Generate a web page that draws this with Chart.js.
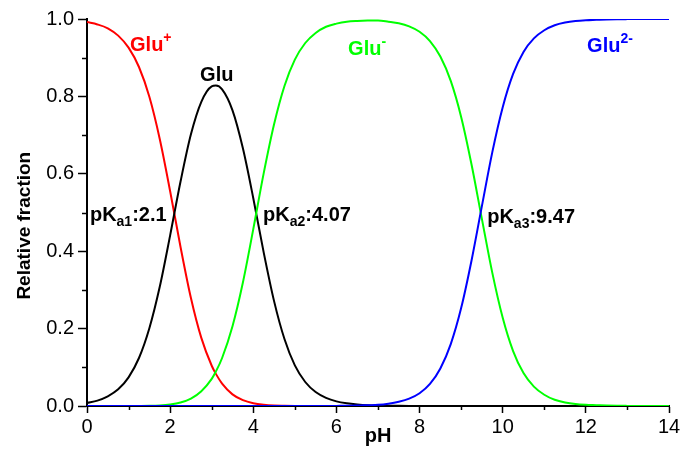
<!DOCTYPE html>
<html>
<head>
<meta charset="utf-8">
<script src="https://cdn.jsdelivr.net/npm/chart.js@4/dist/chart.umd.min.js"></script>
<style>
  body { margin: 0; background: #fff; }
</style>
</head>
<body>
<canvas id="chart" width="683" height="450"></canvas>
<script>
// pH grid and species fractions
const pH = [0, 0.25, 0.5, 0.75, 1, 1.25, 1.5, 1.75, 2, 2.25, 2.5, 2.75, 3, 3.1, 3.25, 3.5, 3.75,
  4, 4.25, 4.5, 4.75, 5, 5.25, 5.5, 5.75, 6, 6.25, 6.5, 6.75, 7, 7.25, 7.5, 7.75,
  8, 8.25, 8.5, 8.75, 9, 9.25, 9.5, 9.75, 10, 10.25, 10.5, 10.75, 11, 11.25, 11.5, 11.75,
  12, 12.25, 12.5, 12.75, 13, 13.25, 13.5, 13.75, 14];

const gluPlus = [0.992, 0.986, 0.976, 0.957, 0.926, 0.876, 0.799, 0.690, 0.555, 0.411, 0.279, 0.176, 0.104, 0.083, 0.058, 0.030, 0.015,
  0.007, 0.003, 0.001, 0.0004, 0.0001, 0, 0, 0, 0, 0, 0, 0, 0, 0, 0, 0,
  0, 0, 0, 0, 0, 0, 0, 0, 0, 0, 0, 0, 0, 0, 0, 0,
  0, 0, 0, 0, 0, 0, 0, 0, 0];

const glu = [0.008, 0.014, 0.025, 0.043, 0.074, 0.124, 0.201, 0.308, 0.441, 0.580, 0.702, 0.786, 0.826, 0.828, 0.818, 0.764, 0.666,
  0.537, 0.397, 0.271, 0.173, 0.105, 0.062, 0.036, 0.021, 0.012, 0.007, 0.004, 0.002, 0.001, 0.0007, 0.0004, 0.0002,
  0.0001, 0, 0, 0, 0, 0, 0, 0, 0, 0, 0, 0, 0, 0, 0, 0,
  0, 0, 0, 0, 0, 0, 0, 0, 0];

const gluMinus = [0, 0, 0, 0, 0.0001, 0.0002, 0.0005, 0.0015, 0.004, 0.009, 0.019, 0.038, 0.070, 0.089, 0.124, 0.206, 0.319,
  0.457, 0.601, 0.728, 0.827, 0.895, 0.938, 0.964, 0.980, 0.988, 0.993, 0.995, 0.996, 0.996, 0.993, 0.989, 0.981,
  0.967, 0.943, 0.903, 0.840, 0.747, 0.624, 0.483, 0.344, 0.228, 0.142, 0.085, 0.050, 0.029, 0.016, 0.009, 0.005,
  0.003, 0.002, 0.001, 0.0005, 0.0003, 0.0002, 0.0001, 0.0001, 0];

const gluTwoMinus = [0, 0, 0, 0, 0, 0, 0, 0, 0, 0, 0, 0, 0, 0, 0, 0, 0,
  0, 0, 0, 0, 0, 0, 0, 0, 0.0003, 0.0006, 0.001, 0.002, 0.003, 0.006, 0.011, 0.019,
  0.033, 0.057, 0.097, 0.160, 0.253, 0.376, 0.517, 0.656, 0.772, 0.858, 0.915, 0.950, 0.971, 0.984, 0.991, 0.995,
  0.997, 0.998, 0.999, 0.9995, 0.9997, 0.9998, 0.9999, 0.9999, 1.0];

const xMinor = [1, 3, 5, 7, 9, 11, 13];
const yMinor = [0.1, 0.3, 0.5, 0.7, 0.9];

const FONT = '"Liberation Sans", Arial, sans-serif';

// text labels placed in data units (pH, fraction)
const notes = [
  { x: 1.035, y: 0.9185, color: '#ff0000', parts: [['Glu', 0], ['+', 1]] },
  { x: 2.72, y: 0.841, color: '#000000', parts: [['Glu', 0]] },
  { x: 6.28, y: 0.908, color: '#00ff00', parts: [['Glu', 0], ['-', 1]] },
  { x: 12.03, y: 0.916, color: '#0000ff', parts: [['Glu', 0], ['2-', 1]] },
  { x: 0.07, y: 0.4787, color: '#000000', parts: [['pK', 0], ['a1', -1], [':2.1', 0]] },
  { x: 4.236, y: 0.4787, color: '#000000', parts: [['pK', 0], ['a2', -1], [':4.07', 0]] },
  { x: 9.627, y: 0.4735, color: '#000000', parts: [['pK', 0], ['a3', -1], [':9.47', 0]] }
];

function series(vals) {
  return vals.map((v, i) => ({ x: pH[i], y: v }));
}

const extras = {
  id: 'extras',
  afterDraw(chart) {
    const ctx = chart.ctx;
    const xs = chart.scales.x, ys = chart.scales.y;
    const area = chart.chartArea;
    ctx.save();
    ctx.strokeStyle = '#000';
    ctx.lineWidth = 1.5;
    // minor ticks
    xMinor.forEach(v => {
      const px = Math.round(xs.getPixelForValue(v)) + 0.5;
      ctx.beginPath();
      ctx.moveTo(px, area.bottom);
      ctx.lineTo(px, area.bottom + 4);
      ctx.stroke();
    });
    yMinor.forEach(v => {
      const py = Math.round(ys.getPixelForValue(v)) + 0.5;
      ctx.beginPath();
      ctx.moveTo(area.left, py);
      ctx.lineTo(area.left - 5, py);
      ctx.stroke();
    });
    // labels
    ctx.textBaseline = 'alphabetic';
    ctx.textAlign = 'left';
    notes.forEach(n => {
      let px = xs.getPixelForValue(n.x);
      const py = ys.getPixelForValue(n.y);
      ctx.fillStyle = n.color;
      n.parts.forEach(([t, shift]) => {
        ctx.font = shift === 0 ? 'bold 20px ' + FONT : 'bold 14px ' + FONT;
        const dy = shift === 1 ? -9 : (shift === -1 ? 5 : 0);
        ctx.fillText(t, px, py + dy);
        px += ctx.measureText(t).width;
      });
    });
    ctx.restore();
  }
};

new Chart('chart', {
  type: 'line',
  data: {
    datasets: [
      { label: 'Glu+', data: series(gluPlus), borderColor: '#ff0000', order: 3 },
      { label: 'Glu', data: series(glu), borderColor: '#000000', order: 2 },
      { label: 'Glu-', data: series(gluMinus), borderColor: '#00ff00', order: 1 },
      { label: 'Glu2-', data: series(gluTwoMinus), borderColor: '#0000ff', order: 0 }
    ]
  },
  options: {
    responsive: false,
    animation: false,
    layout: { padding: { top: 19, right: 14, left: 0, bottom: 0 } },
    elements: {
      point: { radius: 0 },
      line: { borderWidth: 2, cubicInterpolationMode: 'monotone', fill: false }
    },
    plugins: {
      legend: { display: false },
      tooltip: { enabled: false }
    },
    scales: {
      x: {
        type: 'linear',
        min: 0,
        max: 14,
        afterFit: s => { s.height = 44; },
        ticks: { stepSize: 2, color: '#000', padding: 2, font: { family: FONT, size: 20 } },
        grid: { drawOnChartArea: false, tickLength: 7, tickColor: '#000', tickWidth: 1.5 },
        border: { color: '#000', width: 2 },
        title: { display: true, text: 'pH', color: '#000', padding: { top: 0, bottom: 2 },
          font: { family: FONT, size: 20, weight: 'bold' } }
      },
      y: {
        min: 0,
        max: 1,
        afterFit: s => { s.width = 87; },
        ticks: { stepSize: 0.2, color: '#000', padding: 4, font: { family: FONT, size: 20 },
          callback: v => v.toFixed(1) },
        grid: { drawOnChartArea: false, tickLength: 9, tickColor: '#000', tickWidth: 1.5 },
        border: { color: '#000', width: 2 },
        // trailing spaces push the rotated title a little below the axis centre, as in the original
        title: { display: true, text: 'Relative fraction     ', color: '#000', padding: { top: 13, bottom: 0 },
          font: { family: FONT, size: 19, weight: 'bold' } }
      }
    }
  },
  plugins: [extras]
});
</script>
</body>
</html>
